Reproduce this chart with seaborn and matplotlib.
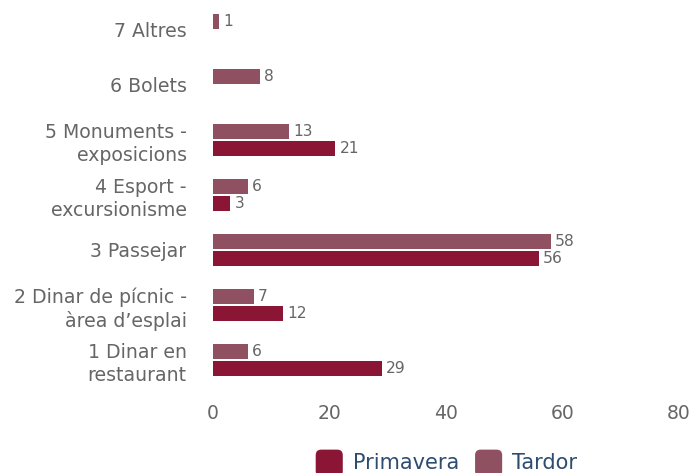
import numpy as np
import pandas as pd
import matplotlib
matplotlib.use("Agg")
import matplotlib.pyplot as plt
import seaborn as sns
from matplotlib.patches import FancyBboxPatch
from matplotlib.legend_handler import HandlerPatch

categories = [
    "7 Altres",
    "6 Bolets",
    "5 Monuments -\nexposicions",
    "4 Esport -\nexcursionisme",
    "3 Passejar",
    "2 Dinar de pícnic -\nàrea d’esplai",
    "1 Dinar en\nrestaurant",
]
primavera = [np.nan, np.nan, 21, 3, 56, 12, 29]
tardor = [1, 8, 13, 6, 58, 7, 6]
series_names = ["Primavera", "Tardor"]
colors = {"Primavera": "#8b1535", "Tardor": "#8f5061"}
x_ticks = [0, 20, 40, 60, 80]

df = pd.DataFrame({
    "categoria": categories * 2,
    "valor": primavera + tardor,
    "serie": ["Primavera"] * len(categories) + ["Tardor"] * len(categories),
})

sns.set_style("white")
plt.rcParams["font.family"] = ["DejaVu Sans"]

fig = plt.figure(figsize=(6.9, 4.73), dpi=100)
ax = fig.add_axes([0.3087, 0.181, 0.675, 0.814])

sns.barplot(
    data=df, y="categoria", x="valor", hue="serie",
    hue_order=["Tardor", "Primavera"], order=categories,
    palette=colors, orient="h", width=0.6, gap=0.1,
    ax=ax, legend=False, errorbar=None, saturation=1, linewidth=0,
)

for container in ax.containers:
    ax.bar_label(container, fmt="%g", padding=3, fontsize=11.2, color="#666666")

ax.set_xlim(0, 80)
ax.set_xticks(x_ticks)
ax.set_xlabel("")
ax.set_ylabel("")
ax.tick_params(axis="x", length=0, pad=12, labelsize=13.5, labelcolor="#666666")
ax.tick_params(axis="y", length=0, pad=19, labelsize=13.6, labelcolor="#666666")
for lbl in ax.get_yticklabels():
    lbl.set_horizontalalignment("right")
    lbl.set_linespacing(1.3)
for s in ax.spines.values():
    s.set_visible(False)
ax.grid(False)


class RoundedHandler(HandlerPatch):
    def create_artists(self, legend, orig_handle, xdescent, ydescent,
                       width, height, fontsize, trans):
        size = width
        p = FancyBboxPatch(
            (xdescent, ydescent + height / 2 - size / 2 - 1),
            size, size, boxstyle="round,pad=0,rounding_size=4",
            facecolor=orig_handle.get_facecolor(), edgecolor="none",
            transform=trans,
        )
        return [p]


handles = [plt.Rectangle((0, 0), 1, 1, facecolor=colors[n]) for n in series_names]
leg = fig.legend(
    handles, series_names, loc="center", bbox_to_anchor=(0.647, 0.021),
    ncol=2, frameon=False, fontsize=15, handlelength=1.3, handleheight=0.7,
    handletextpad=0.48, columnspacing=0.77, borderpad=0, borderaxespad=0,
    handler_map={plt.Rectangle: RoundedHandler()},
)
for t in leg.get_texts():
    t.set_color("#2e4d6e")

fig.savefig("out.png", dpi=100)
